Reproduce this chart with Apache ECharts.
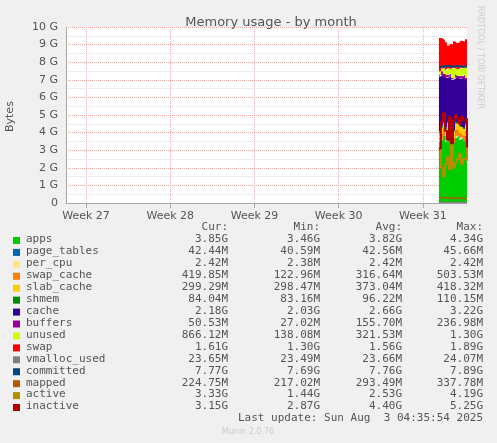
<!DOCTYPE html>
<html>
<head>
<meta charset="utf-8">
<script src="https://cdn.jsdelivr.net/npm/echarts@6/dist/echarts.min.js"></script>
<style>
  html, body { margin: 0; padding: 0; background: #f0f0f0; }
  #chart { width: 497px; height: 443px; }
</style>
</head>
<body>
<div id="chart"></div>
<script>
// x axis: 4-hour slots; slot index where each week label sits
var slotCount = 201;
var weekSlots = [10, 52, 94, 136, 178];
var weekLabels = ['Week 27', 'Week 28', 'Week 29', 'Week 30', 'Week 31'];
var dataStartSlot = 186;

// values in G, one per 4-hour slot from dataStartSlot
var apps        = [3.5, 3.6, 3.8, 3.5, 3.6, 3.9, 3.5, 3.4, 3.7, 3.8, 3.6, 3.7, 3.5, 3.8, 3.85];
var page_tables = [0.04, 0.04, 0.04, 0.04, 0.04, 0.04, 0.04, 0.04, 0.04, 0.04, 0.04, 0.04, 0.04, 0.04, 0.04];
var per_cpu     = [0.002, 0.002, 0.002, 0.002, 0.002, 0.002, 0.002, 0.002, 0.002, 0.002, 0.002, 0.002, 0.002, 0.002, 0.002];
var swap_cache  = [0.15, 0.3, 0.45, 0.3, 0.5, 0.35, 0.3, 0.25, 0.4, 0.3, 0.35, 0.2, 0.3, 0.25, 0.42];
var slab_cache  = [0.3, 0.35, 0.4, 0.35, 0.41, 0.38, 0.36, 0.37, 0.4, 0.36, 0.38, 0.37, 0.35, 0.34, 0.3];
var shmem       = [0.09, 0.1, 0.11, 0.1, 0.09, 0.1, 0.09, 0.08, 0.09, 0.1, 0.09, 0.09, 0.1, 0.09, 0.08];
var cache       = [3.1, 2.9, 2.4, 2.8, 2.5, 2.4, 2.7, 2.9, 2.5, 2.5, 2.6, 2.7, 2.8, 2.5, 2.18];
var buffers     = [0.1, 0.2, 0.15, 0.24, 0.1, 0.18, 0.12, 0.05, 0.2, 0.12, 0.15, 0.1, 0.18, 0.08, 0.05];
var unused      = [0.2, 0.15, 0.3, 0.2, 0.4, 0.3, 0.5, 0.6, 0.35, 0.4, 0.4, 0.5, 0.4, 0.6, 0.87];
var swap        = [1.9, 1.7, 1.6, 1.6, 1.3, 1.4, 1.4, 1.5, 1.4, 1.5, 1.6, 1.5, 1.5, 1.6, 1.61];
var vmalloc_used= [0.024, 0.024, 0.024, 0.024, 0.024, 0.024, 0.024, 0.024, 0.024, 0.024, 0.024, 0.024, 0.024, 0.024, 0.024];
var committed   = [7.72, 7.75, 7.78, 7.76, 7.8, 7.75, 7.74, 7.76, 7.78, 7.77, 7.76, 7.75, 7.74, 7.76, 7.77];
var mapped      = [0.3, 0.32, 0.29, 0.3, 0.28, 0.27, 0.29, 0.3, 0.28, 0.26, 0.27, 0.29, 0.25, 0.24, 0.22];
var active      = [3.9, 2.0, 1.5, 2.2, 2.6, 1.9, 3.3, 2.0, 2.3, 2.5, 2.8, 2.2, 2.5, 2.4, 3.3];
var inactive    = [3.1, 4.6, 5.1, 4.1, 3.6, 4.9, 3.4, 4.7, 5.0, 4.8, 4.5, 4.9, 4.7, 4.8, 3.15];

var names = ['apps', 'page_tables', 'per_cpu', 'swap_cache', 'slab_cache', 'shmem', 'cache', 'buffers', 'unused', 'swap',
             'vmalloc_used', 'committed', 'mapped', 'active', 'inactive'];
var colors = ['#00cc00', '#0066b3', '#ffe680', '#ff8000', '#ffcc00', '#008f00', '#330099', '#990099', '#ccff00', '#ff0000',
              '#808080', '#00487d', '#b35a00', '#b38f00', '#b30000'];
var series_data = [apps, page_tables, per_cpu, swap_cache, slab_cache, shmem, cache, buffers, unused, swap,
                   vmalloc_used, committed, mapped, active, inactive];
var cur = ['3.85G', '42.44M', '2.42M', '419.85M', '299.29M', '84.04M', '2.18G', '50.53M', '866.12M', '1.61G', '23.65M', '7.77G', '224.75M', '3.33G', '3.15G'];
var mins = ['3.46G', '40.59M', '2.38M', '122.96M', '298.47M', '83.16M', '2.03G', '27.02M', '138.08M', '1.30G', '23.49M', '7.69G', '217.02M', '1.44G', '2.87G'];
var avgs = ['3.82G', '42.56M', '2.42M', '316.64M', '373.04M', '96.22M', '2.66G', '155.70M', '321.53M', '1.56G', '23.66M', '7.76G', '293.49M', '2.53G', '4.40G'];
var maxs = ['4.34G', '45.66M', '2.42M', '503.53M', '418.32M', '110.15M', '3.22G', '236.98M', '1.30G', '1.89G', '24.07M', '7.89G', '337.78M', '4.19G', '5.25G'];

var slots = [];
for (var s = 0; s < slotCount; s++) slots.push(s);

var series = names.map(function (n, i) {
  var stacked = i < 10;
  var full = slots.map(function (s) {
    var k = s - dataStartSlot;
    return k >= 0 && k < series_data[i].length ? series_data[i][k] : null;
  });
  return {
    name: n,
    type: 'line',
    stack: stacked ? 'mem' : undefined,
    areaStyle: stacked ? { color: colors[i], opacity: 1 } : undefined,
    symbol: 'none',
    step: 'end',
    z: stacked ? 2 : 3,
    lineStyle: { width: stacked ? 0 : (n === 'vmalloc_used' || n === 'mapped' ? 1.5 : 2), color: colors[i] },
    itemStyle: { color: colors[i] },
    data: full
  };
});

var graphics = [];
var mono = '11px "DejaVu Sans Mono"';
var headY = 222;
[['Cur:', 228], ['Min:', 320], ['Avg:', 402], ['Max:', 483]].forEach(function (h) {
  graphics.push({ type: 'text', x: h[1], y: headY, style: { text: h[0], font: mono, fill: '#555', align: 'right' } });
});
names.forEach(function (n, i) {
  var y = 234 + i * 11.93;
  graphics.push({ type: 'rect', shape: { x: 13, y: y + 3, width: 7, height: 7 }, style: { fill: colors[i] } });
  graphics.push({ type: 'text', x: 26, y: y, style: { text: n, font: mono, fill: '#555' } });
  [[cur, 228], [mins, 320], [avgs, 402], [maxs, 483]].forEach(function (c) {
    graphics.push({ type: 'text', x: c[1], y: y, style: { text: c[0][i], font: mono, fill: '#555', align: 'right' } });
  });
});
graphics.push({ type: 'text', x: 483, y: 413, style: { text: 'Last update: Sun Aug  3 04:35:54 2025', font: mono, fill: '#555', align: 'right' } });
graphics.push({ type: 'text', x: 248, y: 428, style: { text: 'Munin 2.0.76', font: '8px "DejaVu Sans"', fill: '#ccc', align: 'center' } });
graphics.push({ type: 'text', x: 484, y: 6, rotation: -Math.PI / 2, style: { text: 'RRDTOOL / TOBI OETIKER', font: '8px "DejaVu Sans"', fill: '#ccc' } });
graphics.push({ type: 'text', x: 5, y: 132, rotation: Math.PI / 2, style: { text: 'Bytes', font: '11px "DejaVu Sans"', fill: '#555' } });

function isWeek(idx) { return weekSlots.indexOf(idx) >= 0; }

var myChart = echarts.init(document.getElementById('chart'));
myChart.setOption({
  backgroundColor: '#f0f0f0',
  animation: false,
  title: {
    text: 'Memory usage - by month', left: 266, top: 11, textAlign: 'center',
    textStyle: { fontSize: 13, fontWeight: 'normal', color: '#555', fontFamily: 'DejaVu Sans' }
  },
  grid: { left: 66, right: 30, top: 27, bottom: 240, backgroundColor: '#fff', show: true, borderWidth: 0 },
  xAxis: {
    type: 'category', data: slots, boundaryGap: false,
    axisLine: { lineStyle: { color: '#aaa' } },
    axisTick: { interval: function (idx) { return isWeek(idx); }, lineStyle: { color: '#aaa' } },
    axisLabel: {
      interval: function (idx) { return isWeek(idx); }, color: '#555', fontSize: 11, fontFamily: 'DejaVu Sans',
      formatter: function (v, idx) { return weekLabels[weekSlots.indexOf(idx)] || ''; }
    },
    splitLine: { show: true, interval: function (idx) { return isWeek(idx); }, lineStyle: { color: '#f0b0b0', type: 'dotted' } }
  },
  yAxis: {
    type: 'value', min: 0, max: 10, interval: 1,
    axisLine: { show: true, lineStyle: { color: '#aaa' } },
    axisTick: { show: false },
    axisLabel: { color: '#555', fontSize: 11, fontFamily: 'DejaVu Sans', formatter: function (v) { return v + (v ? ' G' : ''); } },
    splitLine: { lineStyle: { color: '#e8a8a8', type: 'dotted' } },
    minorTick: { show: false, splitNumber: 2 },
    minorSplitLine: { show: true, lineStyle: { color: '#ddd', type: 'dotted' } }
  },
  series: series,
  graphic: graphics
});
</script>
</body>
</html>
